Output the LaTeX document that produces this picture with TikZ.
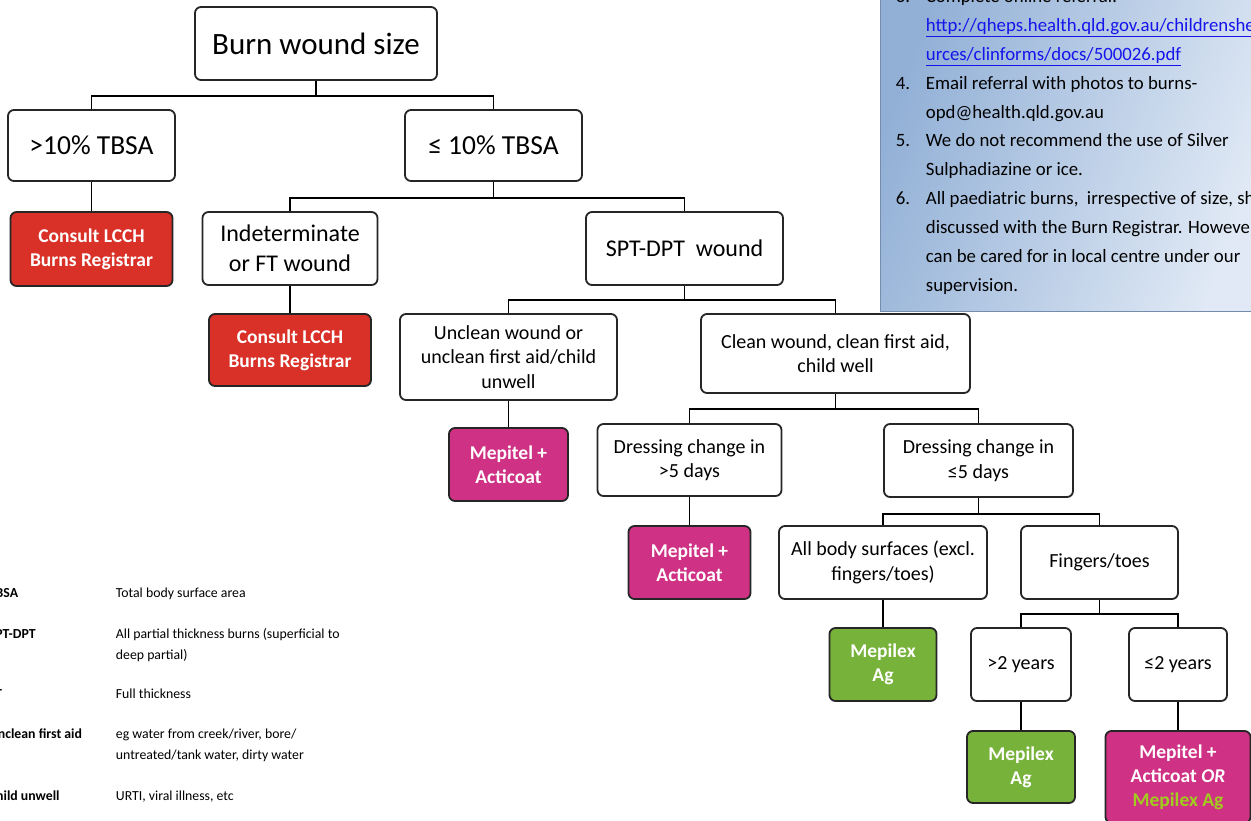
\documentclass[tikz,border=0pt]{standalone}
\usepackage{fontspec}
\setmainfont{Carlito}
\definecolor{lcchred}{RGB}{217,48,40}
\definecolor{mepitel}{RGB}{207,49,132}
\definecolor{mepilex}{RGB}{119,178,58}
\definecolor{limetext}{RGB}{160,205,30}
\definecolor{panelleft}{RGB}{146,176,214}
\definecolor{panelright}{RGB}{224,233,245}
\definecolor{linkblue}{RGB}{20,20,235}

\begin{document}
\begin{tikzpicture}[x=1pt,y=-1pt,line width=1.8pt,
    box/.style={draw=black!85,rounded corners=6pt,fill=white,align=center,
      inner sep=2pt,font=\fontsize{20}{24.5}\selectfont},
    bigbox/.style={box,font=\fontsize{24}{30}\selectfont},
    redbox/.style={box,fill=lcchred,text=white,font=\fontsize{19.5}{24}\selectfont\bfseries},
    pinkbox/.style={redbox,fill=mepitel},
    greenbox/.style={redbox,fill=mepilex},
    note/.style={anchor=north west,inner sep=0pt,align=left,
      font=\fontsize{18.8}{29}\selectfont},
    legend/.style={anchor=north west,inner sep=0pt,align=left,
      font=\fontsize{13.8}{21}\selectfont}]
  \useasboundingbox (0,0) rectangle (1251,820);
  \clip (0,0) rectangle (1251,820);

  % notes panel, top right
  \shade[left color=panelleft,right color=panelright,shading angle=70]
    (880,-5) rectangle (1258,311);
  \draw[line width=0.8pt,panelleft!80!black] (880,-5) rectangle (1258,311);
  \node[note] (n3) at (895,-18.3) {\strut 3.};
  \node[note] (t3) at (925,-18.3) {\strut Complete online referral:\\
    \textcolor{linkblue}{\underline{http://qheps.health.qld.gov.au/childrenshealth/reso}}\\
    \textcolor{linkblue}{\underline{urces/clinforms/docs/500026.pdf}}};
  \node[note] (n4) at (895,68.7) {\strut 4.};
  \node[note] (t4) at (925,68.7) {\strut Email referral with photos to burns-\\opd@health.qld.gov.au};
  \node[note] (n5) at (895,125.7) {\strut 5.};
  \node[note] (t5) at (925,125.7) {\strut We do not recommend the use of Silver\\Sulphadiazine or ice.};
  \node[note] (n6) at (895,183.7) {\strut 6.};
  \node[note] (t6) at (925,183.7) {\strut All paediatric burns,\ \ irrespective of size, should be\\
    discussed with the Burn Registrar. However, they\\
    can be cared for in local centre under our\\supervision.};

  % flowchart
  \node[box,font=\fontsize{31}{36}\selectfont,minimum width=242pt,minimum height=73pt]
    (size) at (316,43.5) {Burn wound size};
  \node[box,font=\fontsize{27.5}{33}\selectfont,minimum width=167pt,minimum height=71pt]
    (over) at (91.5,145.5) {>10\% TBSA};
  \node[box,font=\fontsize{27.5}{33}\selectfont,minimum width=177pt,minimum height=71pt]
    (under) at (493.5,145.5) {≤ 10\% TBSA};
  \node[redbox,minimum width=162pt,minimum height=74pt]
    (regA) at (91.5,249) {Consult LCCH\\Burns Registrar};
  \node[bigbox,minimum width=175pt,minimum height=73pt]
    (indet) at (290,248.5) {Indeterminate\\or FT wound};
  \node[bigbox,minimum width=197pt,minimum height=73pt]
    (spt) at (684.5,248.5) {SPT-DPT\ \ wound};
  \node[redbox,minimum width=162pt,minimum height=72pt]
    (regB) at (290,350) {Consult LCCH\\Burns Registrar};
  \node[box,minimum width=217pt,minimum height=86pt]
    (unclean) at (508.5,357) {Unclean wound or\\unclean first aid/child\\unwell};
  \node[box,minimum width=269pt,minimum height=79pt]
    (clean) at (835.5,353.5) {Clean wound, clean first aid,\\child well};
  \node[pinkbox,minimum width=119pt,minimum height=73pt]
    (mepA) at (508.5,464.5) {Mepitel +\\Acticoat};
  \node[box,minimum width=184pt,minimum height=72pt]
    (gtfive) at (689.5,460) {Dressing change in\\>5 days};
  \node[box,minimum width=189pt,minimum height=73pt]
    (lefive) at (978.5,460.5) {Dressing change in\\≤5 days};
  \node[pinkbox,minimum width=122pt,minimum height=73pt]
    (mepB) at (689.5,562.5) {Mepitel +\\Acticoat};
  \node[box,minimum width=208pt,minimum height=73pt]
    (body) at (883,562.5) {All body surfaces (excl.\\fingers/toes)};
  \node[box,minimum width=157pt,minimum height=73pt]
    (digits) at (1099.5,562.5) {Fingers/toes};
  \node[greenbox,minimum width=107pt,minimum height=73pt]
    (mlxA) at (883,664.5) {Mepilex\\Ag};
  \node[box,minimum width=100pt,minimum height=73pt]
    (older) at (1021,664.5) {>2 years};
  \node[box,minimum width=98pt,minimum height=73pt]
    (younger) at (1178,664.5) {≤2 years};
  \node[greenbox,minimum width=108pt,minimum height=72pt]
    (mlxB) at (1021,767) {Mepilex\\Ag};
  \node[pinkbox,minimum width=145pt,minimum height=92pt]
    (either) at (1178,777) {Mepitel +\\Acticoat \textit{OR}\\\textcolor{limetext}{Mepilex Ag}};

  % connectors
  \draw (size.south) -- ++(0,15) -| (over.north);
  \draw (size.south) ++(0,15) -| (under.north);
  \draw (over) -- (regA);
  \draw (under.south) -- ++(0,16) -| (indet.north);
  \draw (under.south) ++(0,16) -| (spt.north);
  \draw (indet) -- (regB);
  \draw (spt.south) -- ++(0,14) -| (unclean.north);
  \draw (spt.south) ++(0,14) -| (clean.north);
  \draw (unclean) -- (mepA);
  \draw (clean.south) -- ++(0,15) -| (gtfive.north);
  \draw (clean.south) ++(0,15) -| (lefive.north);
  \draw (gtfive) -- (mepB);
  \draw (lefive.south) -- ++(0,16) -| (body.north);
  \draw (lefive.south) ++(0,16) -| (digits.north);
  \draw (body) -- (mlxA);
  \draw (digits.south) -- ++(0,14) -| (older.north);
  \draw (digits.south) ++(0,14) -| (younger.north);
  \draw (older) -- (mlxB);
  \draw (younger) -- (either);

  % abbreviations, bottom left
  \node[legend] (kTBSA) at (-12,582) {\strut\textbf{TBSA}};
  \node[legend] (vTBSA) at (115,582) {\strut Total body surface area};
  \node[legend] (kSPT) at (-12,623) {\strut\textbf{SPT-DPT}};
  \node[legend] (vSPT) at (115,623) {\strut All partial thickness burns (superficial to\\deep partial)};
  \node[legend] (kFT) at (-12,683) {\strut\textbf{FT}};
  \node[legend] (vFT) at (115,683) {\strut Full thickness};
  \node[legend] (kUFA) at (-12,723) {\strut\textbf{Unclean first aid}};
  \node[legend] (vUFA) at (115,723) {\strut eg water from creek/river, bore/\\untreated/tank water, dirty water};
  \node[legend] (kCU) at (-12,785) {\strut\textbf{Child unwell}};
  \node[legend] (vCU) at (115,785) {\strut URTI, viral illness, etc};
\end{tikzpicture}
\end{document}
